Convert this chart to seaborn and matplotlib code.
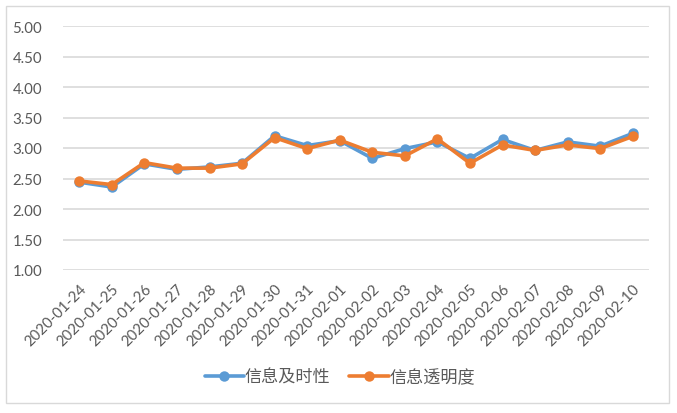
import matplotlib
matplotlib.use("Agg")
import matplotlib.pyplot as plt
import seaborn as sns
import pandas as pd
from matplotlib.patches import Rectangle

dates = ["2020-01-24", "2020-01-25", "2020-01-26", "2020-01-27", "2020-01-28",
         "2020-01-29", "2020-01-30", "2020-01-31", "2020-02-01", "2020-02-02",
         "2020-02-03", "2020-02-04", "2020-02-05", "2020-02-06", "2020-02-07",
         "2020-02-08", "2020-02-09", "2020-02-10"]
timeliness = [2.44, 2.36, 2.74, 2.65, 2.69, 2.75, 3.20, 3.04, 3.12, 2.83,
              2.99, 3.10, 2.83, 3.14, 2.96, 3.10, 3.03, 3.24]
transparency = [2.46, 2.40, 2.76, 2.67, 2.67, 2.74, 3.17, 2.99, 3.13, 2.93,
                2.87, 3.15, 2.75, 3.05, 2.96, 3.05, 2.99, 3.19]
series_names = ["信息及时性", "信息透明度"]
yticks = [1.00, 1.50, 2.00, 2.50, 3.00, 3.50, 4.00, 4.50, 5.00]

sns.set_theme(style="white")
plt.rcParams['font.family'] = ['Lato', 'Noto Sans CJK SC', 'DejaVu Sans']

df = pd.DataFrame({
    "date": dates * 2,
    "x": list(range(len(dates))) * 2,
    "value": timeliness + transparency,
    "series": [series_names[0]] * len(dates) + [series_names[1]] * len(dates),
})

fig = plt.figure(figsize=(6.77, 4.14), dpi=100)
fig.patch.set_facecolor("white")
fig.patches.append(Rectangle((6 / 677, 1 - 404 / 414), 663 / 677, 397 / 414,
                             transform=fig.transFigure, fill=False,
                             edgecolor="#D9D9D9", linewidth=1.0))

ax = fig.add_axes([63 / 677, 1 - 271 / 414, 586 / 677, 244 / 414])
palette = {series_names[0]: "#5B9BD5", series_names[1]: "#ED7D31"}
sns.lineplot(data=df, x="x", y="value", hue="series", palette=palette,
             marker="o", markersize=7.5, markeredgewidth=0, linewidth=2.6,
             ax=ax, legend=True, sort=False)

ax.set_xlim(-0.5, len(dates) - 0.5)
ax.set_ylim(1, 5)
ax.set_yticks(yticks)
ax.set_yticklabels([f"{v:.2f}" for v in yticks], fontsize=10.8, color="#595959")
ax.set_xticks(range(len(dates)))
ax.set_xticklabels(dates, rotation=45, ha="right", rotation_mode="anchor",
                   fontsize=10.8, color="#595959")
ax.tick_params(axis="y", length=0, pad=15)
ax.tick_params(axis="x", length=0, pad=8)
ax.yaxis.grid(True, color="#D9D9D9", linewidth=1.2)
ax.xaxis.grid(False)
for s in ax.spines.values():
    s.set_visible(False)
ax.set_xlabel("")
ax.set_ylabel("")

handles, labels = ax.get_legend_handles_labels()
ax.legend_.remove()
fig.legend(handles, labels, loc="center", bbox_to_anchor=(0.502, 0.087),
           ncol=2, frameon=False, handlelength=2.3, handletextpad=0.05,
           columnspacing=1.1, prop={"family": ["Noto Sans CJK SC", "DejaVu Sans"], "size": 12.3},
           labelcolor="#595959")

fig.savefig("out.png", dpi=100, facecolor="white")
